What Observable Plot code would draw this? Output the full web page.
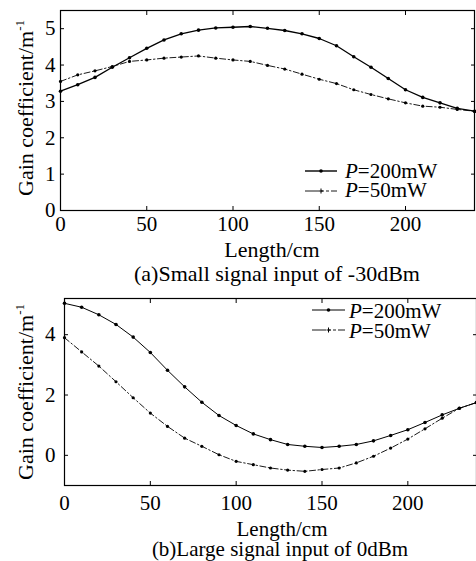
<!DOCTYPE html>
<html><head><meta charset="utf-8">
<script src="https://cdn.jsdelivr.net/npm/d3@7"></script>
<script src="https://cdn.jsdelivr.net/npm/@observablehq/plot@0.6"></script>
<style>
body{margin:0;background:#fff;}
#root{position:relative;width:476px;height:561px;overflow:hidden;font-family:'Liberation Serif','Times New Roman',Times,serif;}
#root svg{position:absolute;left:0;}
#root svg text{font-family:'Liberation Serif','Times New Roman',Times,serif;}
</style></head><body><div id="root"></div>
<script>
// ---- data ----
const lengths = [0,10,20,30,40,50,60,70,80,90,100,110,120,130,140,150,160,170,180,190,200,210,220,230,240];
const gainA200 = [3.28,3.46,3.66,3.94,4.2,4.46,4.69,4.86,4.96,5.02,5.04,5.06,5.01,4.95,4.86,4.73,4.53,4.23,3.94,3.63,3.32,3.11,2.96,2.81,2.73];
const gainA50  = [3.55,3.73,3.84,3.96,4.1,4.14,4.19,4.22,4.25,4.19,4.14,4.1,3.99,3.89,3.75,3.61,3.49,3.32,3.19,3.07,2.96,2.87,2.84,2.78,2.73];
const gainB200 = [5.04,4.91,4.66,4.34,3.92,3.41,2.82,2.27,1.76,1.32,0.99,0.71,0.52,0.36,0.30,0.26,0.30,0.36,0.48,0.66,0.85,1.09,1.34,1.56,1.75];
const gainB50  = [3.9,3.43,2.96,2.44,1.91,1.40,0.96,0.57,0.30,0.02,-0.2,-0.31,-0.42,-0.49,-0.53,-0.47,-0.42,-0.25,-0.03,0.24,0.54,0.88,1.23,1.56,1.75];
const xTicks = [0,50,100,150,200];
const yTicksA = [0,1,2,3,4,5];
const yTicksB = [0,2,4];
const seriesLabels = ["=200mW","=50mW"];
const xLabel = "Length/cm";
const yLabel = "Gain coefficient/m";
const captionA = "(a)Small signal input of -30dBm";
const captionB = "(b)Large signal input of 0dBm";

const FONT = "'Liberation Serif','Times New Roman',Times,serif";
const rows = (vals) => lengths.map((x,i)=>({length:x, gain:vals[i]}));

function panel(o) {
  const d200 = rows(o.s200), d50 = rows(o.s50);
  return Plot.plot({
    width:476, height:o.height, marginTop:o.mt, marginBottom:o.mb, marginLeft:o.ml, marginRight:o.mr,
    style:{fontFamily:FONT, fontSize:"21px", color:"#000", background:"transparent", overflow:"visible"},
    x:{domain:[0,240]},
    y:{domain:o.yDomain},
    marks:[
      Plot.frame({stroke:"#000", strokeWidth:1.2}),
      Plot.axisX(xTicks, {anchor:"bottom", tickSize:-4, tickPadding:o.xPad, label:null}),
      Plot.axisX(xTicks, {anchor:"top", tickSize:-4, tickFormat:()=>"", label:null}),
      Plot.axisY(o.yTicks, {anchor:"left", tickSize:-4, tickPadding:o.yPad, label:null}),
      Plot.axisY(o.yTicks, {anchor:"right", tickSize:-4, tickFormat:()=>"", label:null}),
      Plot.line(d50, {x:"length", y:"gain", stroke:"#000", strokeWidth:0.9, strokeDasharray:"6,2.5,1.5,2.5"}),
      Plot.dot(d50, {x:"length", y:"gain", r:1.6, fill:"#000"}),
      Plot.line(d200, {x:"length", y:"gain", stroke:"#000", strokeWidth:o.sw200}),
      Plot.dot(d200, {x:"length", y:"gain", r:1.8, fill:"#000"})
    ]
  });
}

const root = document.getElementById("root");
const a = panel({s200:gainA200, s50:gainA50, yDomain:[0,5.5], yTicks:yTicksA, height:240, mt:10, mb:30, ml:60, mr:2, xPad:10, yPad:9, sw200:1.3});
a.style.top = "0px";
root.appendChild(a);
const b = panel({s200:gainB200, s50:gainB50, yDomain:[-1,5.2], yTicks:yTicksB, height:230, mt:18, mb:25, ml:64, mr:0, xPad:14, yPad:13, sw200:1});
b.style.top = "280px";
root.appendChild(b);

// ---- overlay: axis titles, captions, legends ----
const ov = d3.create("svg").attr("width",476).attr("height",561).style("top","0px")
  .attr("font-family",FONT).attr("fill","#000");
function ylab(cx, cy) {
  const t = ov.append("text").attr("transform",`translate(${cx},${cy}) rotate(-90)`).attr("text-anchor","middle").attr("font-size",22);
  t.append("tspan").text(yLabel);
  t.append("tspan").attr("font-size",13).attr("dy",-9).text("-1");
}
ylab(33,108); ylab(33,392);
function centered(x, y, s, size) { ov.append("text").attr("x",x).attr("y",y).attr("text-anchor","middle").attr("font-size",size).text(s); }
centered(272,257,xLabel,22); centered(277,281,captionA,22);
centered(282,536,xLabel,21); centered(280,556,captionB,21);

function legendEntry(x1, x2, y, tx, ty, label, dashed, marker, sw) {
  const g = ov.append("g");
  g.append("line").attr("x1",x1).attr("x2",x2).attr("y1",y).attr("y2",y).attr("stroke","#000").attr("stroke-width",sw)
    .attr("stroke-dasharray", dashed ? "14,2,3,2,3,2" : null);
  const mx = (x1+x2)/2;
  if (marker === "dot") g.append("circle").attr("cx",mx).attr("cy",y).attr("r",1.8);
  else g.append("path").attr("d",`M${mx-2},${y}h4M${mx},${y-2.5}v5`).attr("stroke","#000").attr("stroke-width",1);
  const t = g.append("text").attr("x",tx).attr("y",ty).attr("font-size",21);
  t.append("tspan").attr("font-style","italic").text("P");
  t.append("tspan").text(label);
}
legendEntry(305,337,171,345,178,seriesLabels[0],false,"dot",1.4);
legendEntry(305,337,191,345,197,seriesLabels[1],true,"plus",0.9);
legendEntry(312,345,310,349,318,seriesLabels[0],false,"dot",1);
legendEntry(312,345,330,349,338,seriesLabels[1],true,"plus",0.9);
root.appendChild(ov.node());
</script></body></html>
